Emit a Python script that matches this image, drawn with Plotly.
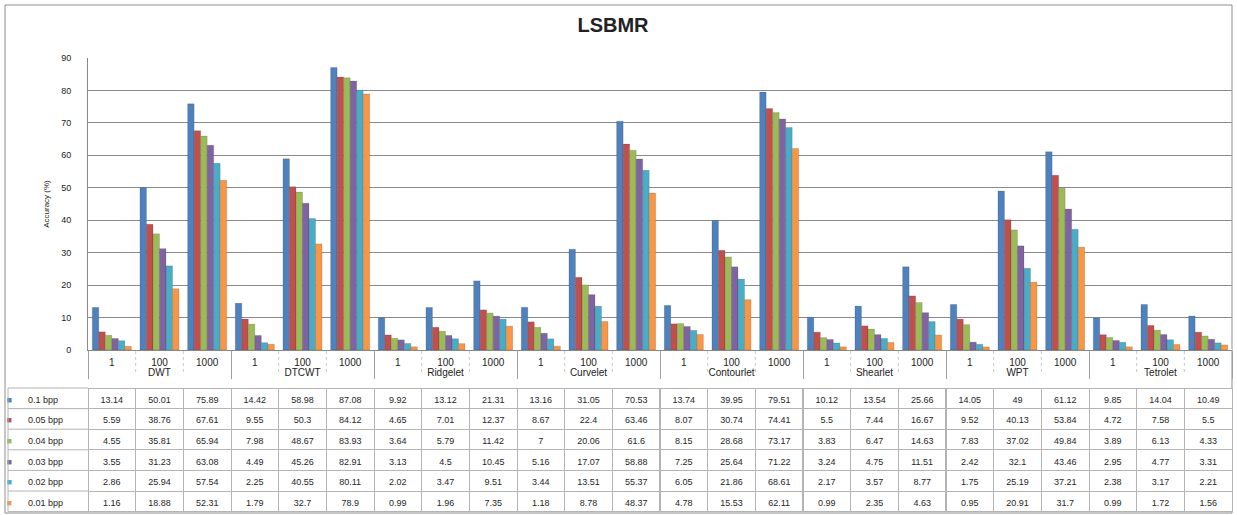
import plotly.graph_objects as go

# ---------------- data ----------------
methods = ["DWT", "DTCWT", "Ridgelet", "Curvelet", "Contourlet", "Shearlet", "WPT", "Tetrolet"]
levels = ["1", "100", "1000"]
series_names = ["0.1 bpp", "0.05 bpp", "0.04 bpp", "0.03 bpp", "0.02 bpp", "0.01 bpp"]
series_colors = ["#4F81BD", "#C0504D", "#9BBB59", "#8064A2", "#4BACC6", "#F79646"]

bpp_010 = [13.14, 50.01, 75.89, 14.42, 58.98, 87.08, 9.92, 13.12, 21.31, 13.16, 31.05, 70.53,
           13.74, 39.95, 79.51, 10.12, 13.54, 25.66, 14.05, 49.00, 61.12, 9.85, 14.04, 10.49]
bpp_005 = [5.59, 38.76, 67.61, 9.55, 50.3, 84.12, 4.65, 7.01, 12.37, 8.67, 22.4, 63.46,
           8.07, 30.74, 74.41, 5.5, 7.44, 16.67, 9.52, 40.13, 53.84, 4.72, 7.58, 5.5]
bpp_004 = [4.55, 35.81, 65.94, 7.98, 48.67, 83.93, 3.64, 5.79, 11.42, 7, 20.06, 61.6,
           8.15, 28.68, 73.17, 3.83, 6.47, 14.63, 7.83, 37.02, 49.84, 3.89, 6.13, 4.33]
bpp_003 = [3.55, 31.23, 63.08, 4.49, 45.26, 82.91, 3.13, 4.5, 10.45, 5.16, 17.07, 58.88,
           7.25, 25.64, 71.22, 3.24, 4.75, 11.51, 2.42, 32.1, 43.46, 2.95, 4.77, 3.31]
bpp_002 = [2.86, 25.94, 57.54, 2.25, 40.55, 80.11, 2.02, 3.47, 9.51, 3.44, 13.51, 55.37,
           6.05, 21.86, 68.61, 2.17, 3.57, 8.77, 1.75, 25.19, 37.21, 2.38, 3.17, 2.21]
bpp_001 = [1.16, 18.88, 52.31, 1.79, 32.7, 78.9, 0.99, 1.96, 7.35, 1.18, 8.78, 48.37,
           4.78, 15.53, 62.11, 0.99, 2.35, 4.63, 0.95, 20.91, 31.7, 0.99, 1.72, 1.56]

series_values = [bpp_010, bpp_005, bpp_004, bpp_003, bpp_002, bpp_001]

# ---------------- layout geometry (pixels) ----------------
W, H = 1237, 515
plot_left, plot_right = 88, 1232
plot_top, plot_bottom = 58, 350
table_left, table_top = 8, 388
row_h = 20.6
key_w = 12

x_group = [m for m in methods for _ in levels]
x_sub = [lv for _ in methods for lv in levels]
n_cols = len(x_group)
n_rows = len(series_names)
col_w = (plot_right - plot_left) / n_cols

fig = go.Figure()
for name, vals, col in zip(series_names, series_values, series_colors):
    fig.add_trace(go.Bar(
        x=[x_group, x_sub], y=vals, name=name,
        marker=dict(color=col, line=dict(color="rgba(0,0,0,0.25)", width=0.5)),
        xaxis="x", yaxis="y", showlegend=False, hoverinfo="skip",
    ))

# ---------------- data table (first row used as table header) ----------------
def fmt(v):
    return f"{v:g}"

text_col = "#262626"
line_cols = ["white", "white"] + ["#B4B4B4"] * n_cols

header_vals = ["■", series_names[0]] + [fmt(v) for v in series_values[0]]
header_font_col = [series_colors[0], text_col] + [text_col] * n_cols

cell_vals = [["■"] * (n_rows - 1), series_names[1:]]
for j in range(n_cols):
    cell_vals.append([fmt(vals[j]) for vals in series_values[1:]])
cell_font_col = [series_colors[1:], [text_col] * (n_rows - 1)] + [[text_col] * (n_rows - 1)] * n_cols

aligns = ["right", "left"] + ["center"] * n_cols
fnt = "Liberation Sans"

fig.add_trace(go.Table(
    domain=dict(x=[table_left / W, plot_right / W], y=[0, (H - table_top) / H]),
    columnwidth=[key_w, plot_left - table_left - key_w] + [col_w] * n_cols,
    header=dict(values=header_vals, height=row_h, align=aligns,
                line=dict(color=line_cols, width=1), fill=dict(color="white"),
                font=dict(family=fnt, size=9, color=header_font_col)),
    cells=dict(values=cell_vals, height=row_h, align=aligns,
               line=dict(color=line_cols, width=1), fill=dict(color="white"),
               font=dict(family=fnt, size=9, color=cell_font_col)),
))

fig.update_layout(
    width=W, height=H,
    margin=dict(l=0, r=0, t=0, b=0, autoexpand=False),
    paper_bgcolor="white", plot_bgcolor="white",
    title=dict(text="<b>LSBMR</b>", x=613 / W, xanchor="center", y=1 - 25 / H, yanchor="middle",
               font=dict(family=fnt, size=20, color="#222222")),
    barmode="group", bargap=0.18, bargroupgap=0.0,
    xaxis=dict(domain=[plot_left / W, plot_right / W], type="multicategory", automargin=False,
               showline=True, linecolor="#888888", linewidth=1,
               showdividers=True, dividercolor="#A0A0A0", dividerwidth=1,
               tickfont=dict(family=fnt, size=10, color="#222222"),
               ticks="", ticklabelstandoff=3, showgrid=False),
    yaxis=dict(domain=[(H - plot_bottom) / H, (H - plot_top) / H], range=[0, 90], dtick=10,
               automargin=False,
               showline=True, linecolor="#888888", linewidth=1,
               showgrid=True, gridcolor="#8A8A8A", gridwidth=1,
               ticks="", ticklabelstandoff=14,
               tickfont=dict(family=fnt, size=9, color="#222222"),
               title=dict(text="Accuracy (%)", standoff=10,
                          font=dict(family=fnt, size=8, color="#222222"))),
)

# chart border, legend-column frame and sub-category separators
tx0 = table_left / W
tx1 = plot_left / W
shapes = [dict(type="rect", xref="paper", yref="paper", x0=5 / W, x1=1232 / W, y0=2 / H, y1=1 - 5 / H,
               line=dict(color="#8C8C8C", width=1), fillcolor="rgba(0,0,0,0)", layer="below")]
for r in range(n_rows + 1):
    yp = (H - table_top - r * row_h) / H
    shapes.append(dict(type="line", xref="paper", yref="paper", x0=tx0, x1=tx1, y0=yp, y1=yp,
                       line=dict(color="#B4B4B4", width=1)))
shapes.append(dict(type="line", xref="paper", yref="paper", x0=tx0, x1=tx0,
                   y0=(H - table_top - n_rows * row_h) / H, y1=(H - table_top) / H,
                   line=dict(color="#B4B4B4", width=1)))
for k in range(1, n_cols):
    if k % len(levels) != 0:
        xp = (plot_left + k * col_w) / W
        shapes.append(dict(type="line", xref="paper", yref="paper", x0=xp, x1=xp,
                           y0=(H - 372) / H, y1=(H - plot_bottom) / H,
                           line=dict(color="#C8C8C8", width=1, dash="dot")))
fig.update_layout(shapes=shapes)

fig.write_html("out.html", post_script="document.body.style.margin='0';",
               config={"displayModeBar": False})
